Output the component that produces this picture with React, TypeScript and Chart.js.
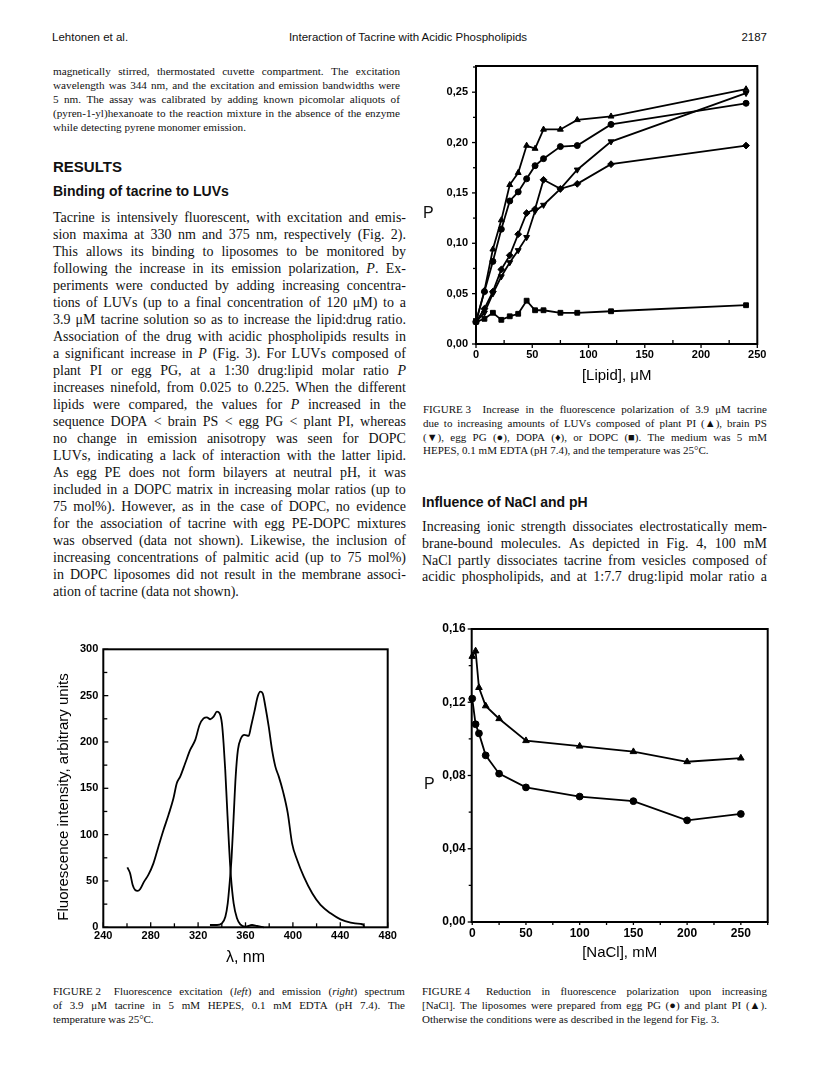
import React, { useEffect, useRef } from "react";
import { Chart, registerables } from "chart.js";
Chart.register(...registerables);

const SERIF = "'Liberation Serif', 'Times New Roman', serif";
const SANS = "'Liberation Sans', Arial, sans-serif";

// ---------------- Figure 2: excitation / emission spectra ----------------
const excitationWavelength = [260.3, 262.6, 264.8, 266.8, 269, 271, 274.4, 278, 282.3, 286.5, 290.8, 295, 299.2, 302, 304.9, 309.1, 313.3, 317.6, 321.2, 324.6, 327.4, 330.2, 333.1, 335.9, 338.1, 340.1, 341.5, 342.9, 344.3, 346, 347.7, 350, 352.8, 355.6, 359.9, 365.5, 369.7, 375.4];
const excitationIntensity = [64.7, 58.3, 45.7, 40.3, 39.2, 41, 49.3, 56.5, 69, 87, 105, 121.2, 139.2, 155.4, 162.6, 177, 191.4, 202.2, 218.3, 225.5, 226.6, 224.5, 227.3, 232.7, 231, 220, 198.6, 169.8, 133.8, 90.6, 54.7, 25.9, 9.7, 3.2, 0.7, 2.5, 1.4, 0];
const emissionWavelength = [330, 336, 340, 343, 345, 346.6, 348.3, 350, 351.7, 353.6, 356.2, 359, 362.7, 364.6, 367.5, 370.3, 372.5, 374.5, 376.8, 379.6, 382.4, 385.2, 388.1, 391.7, 395.7, 399.3, 403.6, 409.2, 416.3, 423.3, 431.8, 440.2, 448.7, 457.1, 459.4, 460];
const emissionIntensity = [2.5, 2.5, 4.3, 11.5, 25.9, 47.5, 76.3, 119.4, 162.6, 191.4, 204, 207.6, 206.5, 216.5, 232.7, 249, 254.3, 252.5, 238, 216.5, 191.4, 173.4, 162.6, 146.4, 123, 90.6, 72.7, 54.7, 36.7, 24.1, 15.1, 8.6, 5, 3.6, 2.9, 0];

// ---------------- Figure 3: P vs [Lipid] ----------------
const lipidConcentration = [0, 7.5, 15, 22.5, 30, 37.5, 45, 52.5, 60, 75, 90, 120, 240];
const plantPI = [0.022, 0.053, 0.094, 0.123, 0.158, 0.170, 0.197, 0.194, 0.213, 0.213, 0.2225, 0.226, 0.253];
const brainPS = [0.022, 0.031, 0.050, 0.067, 0.081, 0.093, 0.106, 0.132, 0.138, 0.154, 0.173, 0.201, 0.249];
const eggPG = [0.022, 0.052, 0.082, 0.114, 0.142, 0.151, 0.164, 0.177, 0.184, 0.196, 0.197, 0.218, 0.239];
const dopa = [0.022, 0.035, 0.052, 0.074, 0.088, 0.109, 0.130, 0.134, 0.163, 0.154, 0.159, 0.1785, 0.197];
const dopc = [0.022, 0.025, 0.031, 0.024, 0.0275, 0.030, 0.043, 0.0335, 0.0335, 0.031, 0.031, 0.0325, 0.0385];

// ---------------- Figure 4: P vs [NaCl] ----------------
const naclConcentration = [0, 3.125, 6.25, 12.5, 25, 50, 100, 150, 200, 250];
const eggPGNaCl = [0.122, 0.108, 0.103, 0.091, 0.081, 0.0735, 0.0685, 0.066, 0.0555, 0.059];
const plantPINaCl = [0.145, 0.148, 0.128, 0.118, 0.111, 0.099, 0.096, 0.093, 0.0875, 0.0895];

const commaFmt = (v: any) => Number(v).toFixed(2).replace(".", ",");

// frame + tick marks drawn from the library's scales
const framePlugin = {
  id: "frame",
  beforeDatasetsDraw(chart: any, _args: any, opts: any) {
    const { ctx, chartArea: a } = chart;
    ctx.save();
    ctx.strokeStyle = "#000";
    ctx.lineWidth = opts.lineWidth || 2;
    ctx.strokeRect(a.left, a.top, a.right - a.left, a.bottom - a.top);
    ctx.lineWidth = 1.3;
    const doScale = (scale: any, isX: boolean, majLen: number, minLen: number) => {
      const vals = scale.ticks.map((t: any) => t.value);
      const step = vals.length > 1 ? vals[1] - vals[0] : 0;
      const draw = (v: number, len: number) => {
        const p = scale.getPixelForValue(v);
        ctx.beginPath();
        if (isX) {
          ctx.moveTo(p, a.bottom);
          ctx.lineTo(p, a.bottom + len);
        } else {
          ctx.moveTo(a.left, p);
          ctx.lineTo(a.left - len, p);
        }
        ctx.stroke();
      };
      vals.forEach((v: number) => draw(v, majLen));
      if (step) {
        for (let v = vals[0] - step / 2; v <= scale.max + 1e-9; v += step) {
          if (v >= scale.min - 1e-9) draw(v, minLen);
        }
      }
    };
    doScale(chart.scales.x, true, opts.xMajor, opts.xMinor);
    doScale(chart.scales.y, false, opts.yMajor, opts.yMinor);
    ctx.restore();
  },
};

const fixY = (w: number) => (s: any) => {
  s.width = w;
  s.paddingTop = 0; s.paddingBottom = 0; s.paddingLeft = 0; s.paddingRight = 0;
};
const fixX = (h: number) => (s: any) => {
  s.height = h;
  s.paddingTop = 0; s.paddingBottom = 0; s.paddingLeft = 0; s.paddingRight = 0;
};

const noGrid = { display: false, drawTicks: false };

const baseOptions = (pad: any) => ({
  responsive: false,
  animation: false,
  devicePixelRatio: 1,
  layout: { padding: pad },
  plugins: { legend: { display: false }, tooltip: { enabled: false } },
});

function fig2Config(): any {
  const ds = (xs: number[], ys: number[]) => ({
    data: xs.map((x, i) => ({ x, y: ys[i] })),
    borderColor: "#000",
    borderWidth: 1.8,
    pointRadius: 0,
    cubicInterpolationMode: "monotone",
    clip: false,
  });
  const o: any = baseOptions({ left: 0, top: 9.3, right: 12.3, bottom: 0 });
  o.plugins.frame = { xMajor: -5, xMinor: -4, yMajor: -5, yMinor: -4 };
  o.scales = {
    x: {
      type: "linear", min: 240, max: 480,
      grid: noGrid, border: { display: false },
      ticks: { stepSize: 40, includeBounds: false, autoSkip: false, maxRotation: 0, padding: 2, color: "#000", font: { family: SANS, size: 11, weight: "bold" } },
      title: { display: true, text: "λ, nm", color: "#000", font: { family: SANS, size: 16 }, padding: { top: 0, bottom: 2.4 } },
      afterFit: fixX(42.7),
    },
    y: {
      min: 0, max: 300,
      grid: noGrid, border: { display: false },
      ticks: { stepSize: 50, includeBounds: false, autoSkip: false, padding: 5, color: "#000", font: { family: SANS, size: 11, weight: "bold" } },
      afterFit: fixY(83.3),
    },
  };
  return {
    type: "line",
    data: { datasets: [ds(excitationWavelength, excitationIntensity), ds(emissionWavelength, emissionIntensity)] },
    options: o,
    plugins: [framePlugin],
  };
}

function fig3Config(): any {
  const mk = (label: string, vals: number[], style: string, rot = 0) => ({
    label,
    data: lipidConcentration.map((x, i) => ({ x, y: vals[i] })),
    borderColor: "#000",
    backgroundColor: "#000",
    borderWidth: 1.8,
    pointStyle: style,
    pointRotation: rot,
    pointRadius: style === "circle" ? 3 : 3.4,
    pointBorderWidth: 1,
    tension: 0,
    clip: false,
  });
  const o: any = baseOptions({ left: 0, top: 16, right: 17.7, bottom: 0 });
  o.plugins.frame = { xMajor: 4, xMinor: -4, yMajor: 4, yMinor: 3 };
  o.scales = {
    x: {
      type: "linear", min: 0, max: 250,
      grid: noGrid, border: { display: false },
      ticks: { stepSize: 50, includeBounds: false, autoSkip: false, maxRotation: 0, padding: 4, color: "#000", font: { family: SANS, size: 11, weight: "bold" } },
      title: { display: true, text: "[Lipid], μM", color: "#000", font: { family: SANS, size: 15 }, padding: { top: 0, bottom: 10.5 } },
      afterFit: fixX(51),
    },
    y: {
      min: 0, max: 0.276,
      grid: noGrid, border: { display: false },
      ticks: { stepSize: 0.05, includeBounds: false, autoSkip: false, padding: 8, color: "#000", font: { family: SANS, size: 11, weight: "bold" }, callback: commaFmt },
      afterFit: fixY(61),
    },
  };
  return {
    type: "line",
    data: {
      datasets: [
        mk("plant PI", plantPI, "triangle"),
        mk("brain PS", brainPS, "triangle", 180),
        mk("egg PG", eggPG, "circle"),
        mk("DOPA", dopa, "rectRot"),
        mk("DOPC", dopc, "rect"),
      ],
    },
    options: o,
    plugins: [framePlugin],
  };
}

function fig4Config(): any {
  const mk = (label: string, vals: number[], style: string) => ({
    label,
    data: naclConcentration.map((x, i) => ({ x, y: vals[i] })),
    borderColor: "#000",
    backgroundColor: "#000",
    borderWidth: 1.8,
    pointStyle: style,
    pointRadius: style === "circle" ? 3.4 : 3.8,
    pointBorderWidth: 1,
    tension: 0,
    clip: false,
  });
  const o: any = baseOptions({ left: 0, top: 14, right: 7.3, bottom: 0 });
  o.plugins.frame = { xMajor: 3, xMinor: 3, yMajor: 4, yMinor: 3 };
  o.scales = {
    x: {
      type: "linear", min: -0.5, max: 275,
      grid: noGrid, border: { display: false },
      ticks: { stepSize: 50, includeBounds: false, autoSkip: false, maxRotation: 0, padding: 4, color: "#000", font: { family: SANS, size: 12, weight: "bold" } },
      title: { display: true, text: "[NaCl], mM", color: "#000", font: { family: SANS, size: 15 }, padding: { top: 0, bottom: 8 } },
      afterFit: fixX(48),
    },
    y: {
      min: 0, max: 0.16,
      grid: noGrid, border: { display: false },
      ticks: { stepSize: 0.04, includeBounds: false, autoSkip: false, padding: 6, color: "#000", font: { family: SANS, size: 12, weight: "bold" }, callback: commaFmt },
      afterFit: fixY(56.7),
    },
  };
  return {
    type: "line",
    data: { datasets: [mk("plant PI", plantPINaCl, "triangle"), mk("egg PG", eggPGNaCl, "circle")] },
    options: o,
    plugins: [framePlugin],
  };
}

function ChartCanvas({ left, top, width, height, build }: { left: number; top: number; width: number; height: number; build: () => any }) {
  const ref = useRef<HTMLCanvasElement>(null);
  useEffect(() => {
    const chart = new Chart(ref.current as HTMLCanvasElement, build());
    return () => chart.destroy();
  }, []);
  return <canvas ref={ref} width={width} height={height} style={{ position: "absolute", left, top, width, height, display: "block" }} />;
}

function rich(t: string) {
  const parts = t.split(/(_[^_]+_)/g).filter((p) => p.length > 0);
  return parts.map((p, i) =>
    p.length > 2 && p.startsWith("_") && p.endsWith("_") ? <i key={i}>{p.slice(1, -1)}</i> : <React.Fragment key={i}>{p}</React.Fragment>
  );
}

type LP = { x: number; y: number; w?: number; text: string; size: number; family?: string; justify?: boolean; weight?: any; lh?: number; align?: any };
function TextLine({ x, y, w, text, size, family = SERIF, justify = false, weight = "normal", lh, align = "left" }: LP) {
  const lineH = lh ?? Math.round(size * 1.25);
  const base: React.CSSProperties = {
    position: "absolute", left: x, top: y - lineH / 2, height: lineH, lineHeight: `${lineH}px`,
    fontFamily: family, fontSize: size, fontWeight: weight, whiteSpace: "nowrap", color: "#111",
  };
  if (justify && w) {
    const words = text.split(" ");
    return (
      <div style={{ ...base, width: w, display: "flex", justifyContent: "space-between" }}>
        {words.map((wd, i) => <span key={i}>{rich(wd)}</span>)}
      </div>
    );
  }
  return <div style={{ ...base, width: w, textAlign: align }}>{rich(text)}</div>;
}

function Para({ lines, x, y0, dy, w, size, lastJustified = false }: { lines: string[]; x: number; y0: number; dy: number; w: number; size: number; lastJustified?: boolean }) {
  return (
    <>
      {lines.map((t, i) => (
        <TextLine key={i} x={x} y={y0 + i * dy} w={w} text={t} size={size} justify={lastJustified || i < lines.length - 1} />
      ))}
    </>
  );
}

const topPara = [
  "magnetically stirred, thermostated cuvette compartment. The excitation",
  "wavelength was 344 nm, and the excitation and emission bandwidths were",
  "5 nm. The assay was calibrated by adding known picomolar aliquots of",
  "(pyren-1-yl)hexanoate to the reaction mixture in the absence of the enzyme",
  "while detecting pyrene monomer emission.",
];

const bodyLeft = [
  "Tacrine is intensively fluorescent, with excitation and emis-",
  "sion maxima at 330 nm and 375 nm, respectively (Fig. 2).",
  "This allows its binding to liposomes to be monitored by",
  "following the increase in its emission polarization, _P_. Ex-",
  "periments were conducted by adding increasing concentra-",
  "tions of LUVs (up to a final concentration of 120 μM) to a",
  "3.9 μM tacrine solution so as to increase the lipid:drug ratio.",
  "Association of the drug with acidic phospholipids results in",
  "a significant increase in _P_ (Fig. 3). For LUVs composed of",
  "plant PI or egg PG, at a 1:30 drug:lipid molar ratio _P_",
  "increases ninefold, from 0.025 to 0.225. When the different",
  "lipids were compared, the values for _P_ increased in the",
  "sequence DOPA < brain PS < egg PG < plant PI, whereas",
  "no change in emission anisotropy was seen for DOPC",
  "LUVs, indicating a lack of interaction with the latter lipid.",
  "As egg PE does not form bilayers at neutral pH, it was",
  "included in a DOPC matrix in increasing molar ratios (up to",
  "75 mol%). However, as in the case of DOPC, no evidence",
  "for the association of tacrine with egg PE-DOPC mixtures",
  "was observed (data not shown). Likewise, the inclusion of",
  "increasing concentrations of palmitic acid (up to 75 mol%)",
  "in DOPC liposomes did not result in the membrane associ-",
  "ation of tacrine (data not shown).",
];

const fig3Caption = [
  "FIGURE\u00a03\u00a0\u00a0 Increase in the fluorescence polarization of 3.9 μM tacrine",
  "due to increasing amounts of LUVs composed of plant PI (▲), brain PS",
  "(▼), egg PG (●), DOPA (♦), or DOPC (■). The medium was 5 mM",
  "HEPES, 0.1 mM EDTA (pH 7.4), and the temperature was 25°C.",
];

const bodyRight = [
  "Increasing ionic strength dissociates electrostatically mem-",
  "brane-bound molecules. As depicted in Fig. 4, 100 mM",
  "NaCl partly dissociates tacrine from vesicles composed of",
  "acidic phospholipids, and at 1:7.7 drug:lipid molar ratio a",
];

const fig2Caption = [
  "FIGURE\u00a02\u00a0\u00a0 Fluorescence excitation (_left_) and emission (_right_) spectrum",
  "of 3.9 μM tacrine in 5 mM HEPES, 0.1 mM EDTA (pH 7.4). The",
  "temperature was 25°C.",
];

const fig4Caption = [
  "FIGURE\u00a04\u00a0\u00a0 Reduction in fluorescence polarization upon increasing",
  "[NaCl]. The liposomes were prepared from egg PG (●) and plant PI (▲).",
  "Otherwise the conditions were as described in the legend for Fig. 3.",
];

export default function App() {
  return (
    <div style={{ position: "absolute", left: 0, top: 0, width: 816, height: 1078, background: "#fff", overflow: "hidden" }}>
      {/* running header */}
      <TextLine x={52} y={37} text="Lehtonen et al." size={11.5} family={SANS} />
      <TextLine x={0} y={37} w={816} align="center" text="Interaction of Tacrine with Acidic Phospholipids" size={11.5} family={SANS} />
      <TextLine x={700} y={37} w={67} align="right" text="2187" size={11.5} family={SANS} />

      <Para lines={topPara} x={53} y0={71} dy={14} w={347} size={11.2} />

      <TextLine x={53} y={166} text="RESULTS" size={15} family={SANS} weight="bold" />
      <TextLine x={53} y={191} text="Binding of tacrine to LUVs" size={14} family={SANS} weight="bold" />
      <Para lines={bodyLeft} x={53} y0={217.5} dy={17} w={353} size={14} />

      {/* Figure 3 */}
      <ChartCanvas left={415} top={50} width={360} height={345} build={fig3Config} />
      <TextLine x={423} y={213} text="P" size={16} family={SANS} />
      <Para lines={fig3Caption} x={423} y0={408.7} dy={13.9} w={344} size={11} />

      <TextLine x={422} y={501.7} text="Influence of NaCl and pH" size={14} family={SANS} weight="bold" />
      <Para lines={bodyRight} x={422} y0={527.3} dy={16.6} w={345} size={14} lastJustified />

      {/* Figure 2 */}
      <ChartCanvas left={20} top={640} width={380} height={330} build={fig2Config} />
      <div
        style={{
          position: "absolute", left: 63 - 150, top: 797 - 10, width: 300, height: 20, lineHeight: "20px",
          textAlign: "center", fontFamily: SANS, fontSize: 15, color: "#000", whiteSpace: "nowrap",
          transform: "rotate(-90deg)", transformOrigin: "50% 50%",
        }}
      >
        Fluorescence intensity, arbitrary units
      </div>
      <Para lines={fig2Caption} x={53} y0={991} dy={14} w={352} size={11} />

      {/* Figure 4 */}
      <ChartCanvas left={415} top={615} width={360} height={355} build={fig4Config} />
      <TextLine x={424} y={784} text="P" size={16} family={SANS} />
      <Para lines={fig4Caption} x={422} y0={991} dy={14} w={345} size={11} />
    </div>
  );
}
